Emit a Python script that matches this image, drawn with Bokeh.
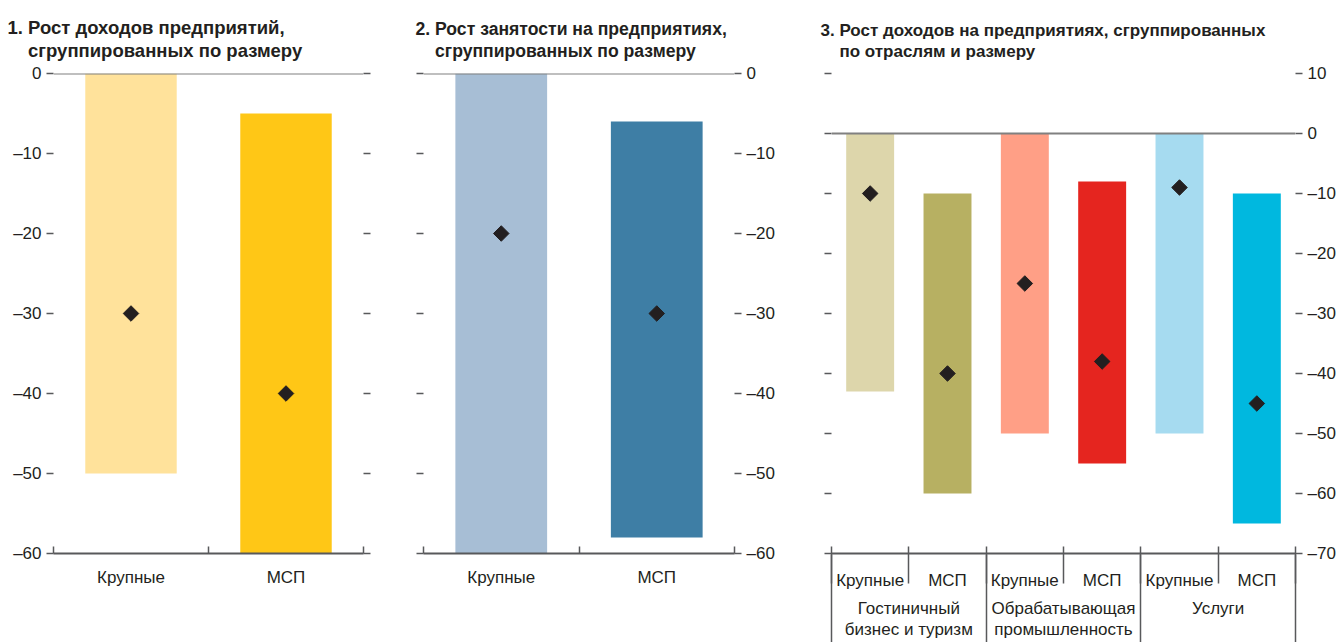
import numpy as np
from bokeh.plotting import figure
from bokeh.models import Range1d, LinearAxis, FixedTicker, Span, ColumnDataSource, Title
from bokeh.layouts import row
from bokeh.embed import file_html
from bokeh.resources import INLINE

# ---------------- data ----------------
sizes = ["Крупные", "МСП"]

p1_top = [0, -5]
p1_bottom = [-50, -60]
p1_marker = [-30, -40]
p1_colors = ["#FFE29B", "#FFC716"]

p2_top = [0, -6]
p2_bottom = [-60, -58]
p2_marker = [-20, -30]
p2_colors = ["#A7BED5", "#3E7EA5"]

sectors = ["Гостиничный\nбизнес и туризм", "Обрабатывающая\nпромышленность", "Услуги"]
p3_top = [0, -10, 0, -8, 0, -10]
p3_bottom = [-43, -60, -50, -55, -50, -65]
p3_marker = [-10, -40, -25, -38, -9, -45]
p3_colors = ["#DDD6AB", "#B7B062", "#FF9F86", "#E5251F", "#A6DBF0", "#00B8DF"]

y_ticks_a = [0, -10, -20, -30, -40, -50, -60]
y_labels_a = ["0", "–10", "–20", "–30", "–40", "–50", "–60"]
y_ticks_b = [10, 0, -10, -20, -30, -40, -50, -60, -70]
y_labels_b = ["10", "0", "–10", "–20", "–30", "–40", "–50", "–60", "–70"]

titles = [
    "1. Рост доходов предприятий,\n\u00a0\u00a0\u00a0\u00a0сгруппированных по размеру",
    "2. Рост занятости на предприятиях,\n\u00a0\u00a0\u00a0\u00a0сгруппированных по размеру",
    "3. Рост доходов на предприятиях, сгруппированных\n\u00a0\u00a0\u00a0\u00a0по отраслям и размеру",
]

FONT = "Liberation Sans"
TXT = "#231F20"
AX = "#58595B"
ZERO = "#808080"
H = 642
TOP = 73
FRAME_H = 480


def y_axis(ticks, labels, show_labels):
    ax = LinearAxis(ticker=FixedTicker(ticks=ticks, minor_ticks=[]))
    ax.axis_line_color = None
    ax.major_tick_in = 0
    ax.major_tick_out = 7
    ax.major_tick_line_color = AX
    ax.major_tick_line_width = 1.5
    ax.minor_tick_line_color = None
    ax.major_label_standoff = 5
    ax.major_label_text_font = FONT
    ax.major_label_text_font_size = "17px" if show_labels else "0px"
    ax.major_label_text_color = TXT
    ax.major_label_overrides = {t: l for t, l in zip(ticks, labels)}
    return ax


def panel(width, ncat, yr, yticks, ylabels, right_labels, mb_left, mb_right,
          title, title_offset, title_size, bar_w, tops, bottoms, markers, colors):
    p = figure(width=width, height=H, x_range=Range1d(0, ncat), y_range=yr,
               x_axis_type=None, y_axis_type=None, toolbar_location=None,
               output_backend="svg", min_border_left=mb_left, min_border_right=mb_right,
               min_border_top=TOP, min_border_bottom=H - TOP - FRAME_H)
    p.outline_line_color = None
    p.background_fill_color = "white"
    p.border_fill_color = "white"

    xs = [i + 0.5 for i in range(ncat)]
    src = ColumnDataSource(dict(x=xs, top=tops, bottom=bottoms, m=markers, c=colors))
    p.vbar(x="x", top="top", bottom="bottom", width=bar_w, fill_color="c",
           line_color=None, source=src)
    p.scatter(x="x", y="m", marker="square", angle=np.pi / 4, size=11,
              fill_color=TXT, line_color=TXT, source=src)
    p.add_layout(Span(location=0, dimension="width", line_color=ZERO, line_width=2))

    p.add_layout(y_axis(yticks, ylabels, not right_labels), "left")
    p.add_layout(y_axis(yticks, ylabels, right_labels), "right")

    t = Title(text=title, align="left", offset=title_offset, text_font=FONT,
              text_font_size=title_size, text_font_style="bold", text_color=TXT,
              text_line_height=1.08, standoff=25)
    p.add_layout(t, "above")
    return p


def cat_axis(tick_pos, labels, minor, tick_in, tick_out, show_line, standoff,
             line_height=1.2):
    ax = LinearAxis(ticker=FixedTicker(ticks=tick_pos, minor_ticks=minor))
    ax.axis_line_color = AX if show_line else None
    ax.axis_line_width = 2
    ax.major_tick_line_color = None
    ax.major_tick_in = 0
    ax.major_tick_out = 0
    ax.minor_tick_line_color = AX
    ax.minor_tick_line_width = 1.5
    ax.minor_tick_in = tick_in
    ax.minor_tick_out = tick_out
    ax.major_label_standoff = standoff
    ax.major_label_text_font = FONT
    ax.major_label_text_font_size = "17px"
    ax.major_label_text_line_height = line_height
    ax.major_label_text_color = TXT
    ax.major_label_overrides = {t: l for t, l in zip(tick_pos, labels)}
    return ax


# Panel 1
p1 = panel(400, 2, Range1d(-60, 0), y_ticks_a, y_labels_a, False, 53, 37,
           titles[0], -46, "18.5px", 0.59, p1_top, p1_bottom, p1_marker, p1_colors)
p1.add_layout(cat_axis([i + 0.5 for i in range(2)], sizes, list(range(3)), 7, 0, True, 14), "below")

# Panel 2
p2 = panel(400, 2, Range1d(-60, 0), y_ticks_a, y_labels_a, True, 23, 66,
           titles[1], -8, "17.6px", 0.59, p2_top, p2_bottom, p2_marker, p2_colors)
p2.add_layout(cat_axis([i + 0.5 for i in range(2)], sizes, list(range(3)), 7, 0, True, 14), "below")

# Panel 3
n3 = len(p3_top)
p3 = panel(538, n3, Range1d(-70, 10), y_ticks_b, y_labels_b, True, 31, 43,
           titles[2], -11, "17px", 0.62, p3_top, p3_bottom, p3_marker, p3_colors)
# row 1: size labels; separators between all sub-categories
p3.add_layout(cat_axis([i + 0.5 for i in range(n3)], sizes * len(sectors),
                       list(range(n3 + 1)), 7, 30, True, -13), "below")
# row 2: sector labels; separators between sectors run through both rows
p3.add_layout(cat_axis([2 * i + 1 for i in range(len(sectors))], sectors,
                       [2 * i for i in range(len(sectors) + 1)], 38, 50, False, -44,
                       line_height=1.12), "below")

layout = row(p1, p2, p3)
open("out.html", "w").write(file_html(layout, INLINE))
